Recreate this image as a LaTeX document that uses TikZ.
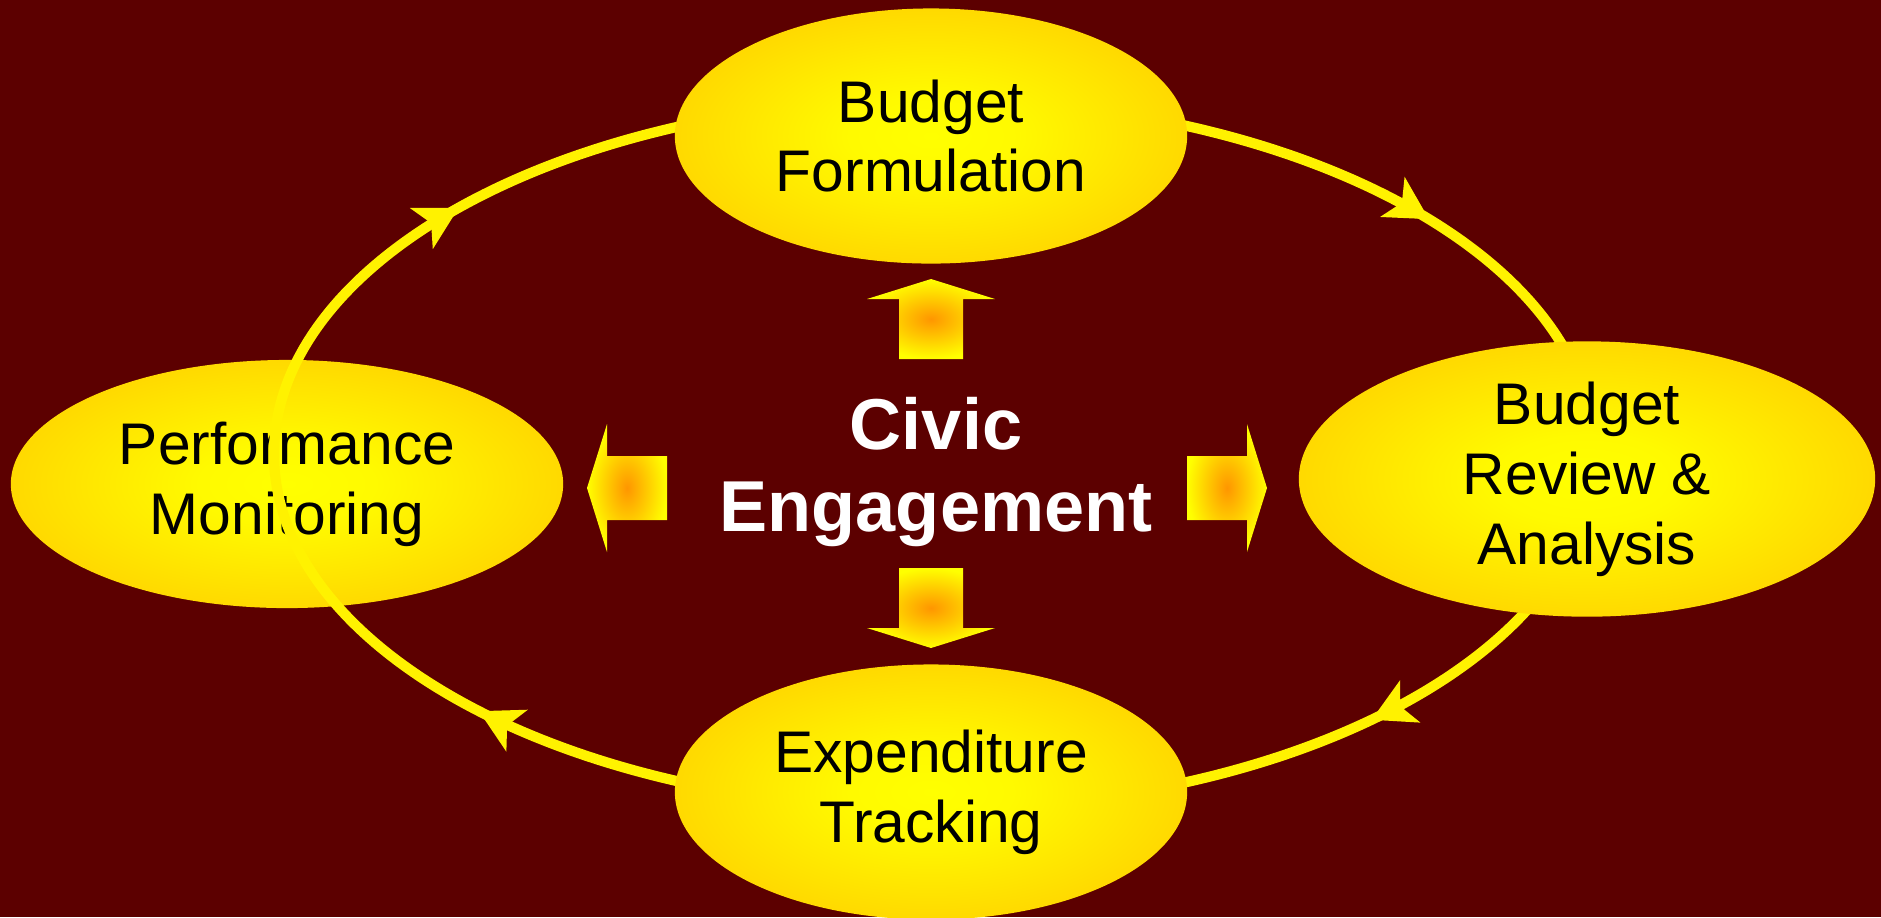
\documentclass[tikz,border=0pt]{standalone}
\usepackage{fontspec}
\setmainfont{Liberation Sans}
\usetikzlibrary{shapes.geometric,arrows.meta,decorations.markings}
\definecolor{maroonbg}{RGB}{92,0,0}
\definecolor{gold}{RGB}{255,204,0}
\definecolor{deeporange}{RGB}{255,150,0}
\pgfdeclareradialshading{ovalglow}{\pgfpoint{0bp}{0bp}}{color(0bp)=(yellow); color(8bp)=(yellow!90!gold); color(32bp)=(gold); color(50bp)=(gold)}

\begin{document}
\begin{tikzpicture}[x=0.01cm,y=-0.01cm,
    stage/.style={ellipse,inner sep=0pt,shading=ovalglow,align=center,
      font=\fontsize{16.7}{19.9}\selectfont,text=black},
    ringline/.style={yellow,line width=2.9pt,postaction={decorate},
      decoration={markings,
        mark=at position 0.112 with {\arrow{Stealth[length=12pt,width=13pt,inset=3pt]}},
        mark=at position 0.394 with {\arrow{Stealth[length=12pt,width=13pt,inset=3pt]}},
        mark=at position 0.599 with {\arrow{Stealth[length=12pt,width=13pt,inset=3pt]}},
        mark=at position 0.908 with {\arrow{Stealth[length=12pt,width=13pt,inset=3pt]}}}},
    pointer/.style={shading=radial,inner color=deeporange,outer color=yellow}]
  \useasboundingbox (0,0) rectangle (1881,917);
  \fill[maroonbg] (0,0) rectangle (1881,917);
  \clip (0,0) rectangle (1881,917);

  \node[stage,minimum width=5.52cm,minimum height=2.48cm] (monitor) at (287,484) {Performance\\Monitoring};
  \coordinate (hub) at (934,454);
  \draw[ringline] (hub) ellipse [x radius=660,y radius=355];
  \node[stage,minimum width=5.12cm,minimum height=2.55cm] (formulation) at (931,136) {Budget\\Formulation};
  \node[stage,minimum width=5.76cm,minimum height=2.40cm] (review) at (1587,479) {Budget\\Review \&\\Analysis};
  \node[stage,minimum width=5.12cm,minimum height=2.55cm] (tracking) at (931,792) {Expenditure\\Tracking};

  \foreach \turn/\bx/\by in {90/931/359,-90/931/568,0/1187/488,180/667/488}
    \path[pointer,shift={(\bx,\by)},rotate=\turn]
      (0,-32) -- (60,-32) -- (60,-64) -- (80,0) -- (60,64) -- (60,32) -- (0,32) -- cycle;

  \node[text=white,align=center,font=\bfseries\fontsize{20.5}{23.3}\selectfont] (civic) at (936,472) {Civic\\Engagement};
\end{tikzpicture}
\end{document}
